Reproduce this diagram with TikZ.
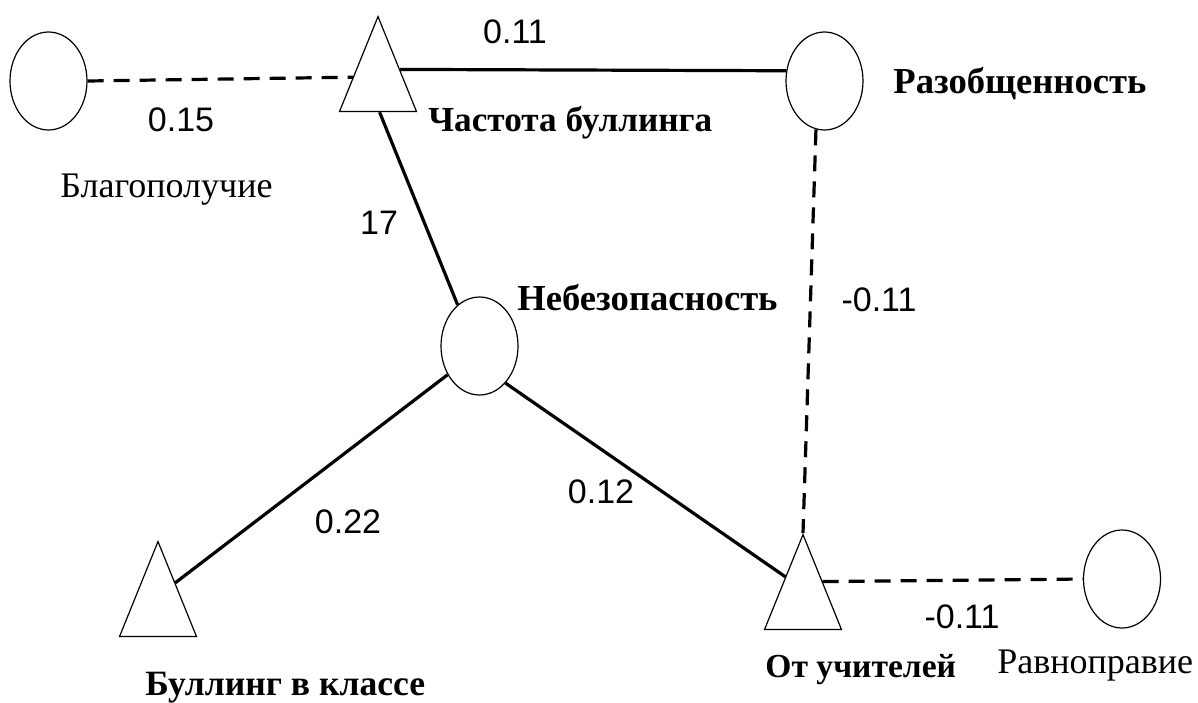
\documentclass[tikz,border=0pt]{standalone}
\usepackage{fontspec}
\setmainfont{Liberation Serif}
\newfontfamily\numfont{Liberation Sans}
\usetikzlibrary{shapes.geometric}
\usetikzlibrary{calc}
\tikzset{%
  solidlink/.style = {line width=1.6pt},
  dashlink/.style = {line width=1.6pt,dash pattern=on 8pt off 5pt},
  fac/.style = {ellipse,draw,line width=0.6pt,inner sep=0pt,
        minimum width=38.5pt,minimum height=49pt},
  tri/.style = {isosceles triangle,isosceles triangle stretches,draw,
        line width=0.6pt,inner sep=0pt,rotate=90,anchor=apex,
        minimum width=38.5pt,minimum height=47.5pt},
  coef/.style = {font=\numfont\fontsize{17}{20}\selectfont},
  lab/.style = {font=\bfseries\fontsize{#1}{21}\selectfont,
        anchor=base west,inner sep=0pt},
  lab/.default = 18.3,
  namelab/.style = {font=\fontsize{18}{21}\selectfont,
        anchor=base west,inner sep=0pt}
}
\begin{document}
\begin{tikzpicture}[x=0.5pt,y=-0.5pt]
        \useasboundingbox (0,0) rectangle (1198,702);
        \node[fac] (blag) at (48.5,81) {};
        \node[tri] (freq) at (378,15) {};
        \node[fac] (razob) at (824.5,81) {};
        \node[fac] (unsafe) at (479.5,346) {};
        \node[tri] (klass) at (158,540) {};
        \node[tri] (teach) at (803,533) {};
        \node[fac] (ravn) at (1122,579) {};

        \draw[dashlink] (blag.east) -- ($(freq.apex)!0.64!(freq.left corner)$);
        \draw[solidlink] ($(freq.apex)!0.56!(freq.right corner)$) -- (razob.165);
        \draw[solidlink] ($(freq.left corner)!0.52!(freq.right corner)$) -- (unsafe.118);
        \draw[dashlink] (razob.260) -- (teach.apex);
        \draw[solidlink] (unsafe.222) -- ($(klass.apex)!0.44!(klass.right corner)$);
        \draw[solidlink] (unsafe.305) -- ($(teach.apex)!0.45!(teach.left corner)$);
        \draw[dashlink] ($(teach.apex)!0.5!(teach.right corner)$) -- (ravn.west);

        \node[coef] (w-fr) at (515,32) {0.11};
        \node[coef] (w-bf) at (181,120) {0.15};
        \node[coef] (w-fu) at (379,223) {17};
        \node[coef] (w-rt) at (879,300) {-0.11};
        \node[coef] (w-uk) at (348,522) {0.22};
        \node[coef] (w-ut) at (601,492) {0.12};
        \node[coef] (w-tr) at (962,617) {-0.11};

        \node[namelab] (blag-l) at (60,197) {Благополучие};
        \node[lab=17.6] (freq-l) at (428,131) {Частота буллинга};
        \node[lab] (razob-l) at (893,93) {Разобщенность};
        \node[lab] (unsafe-l) at (517,310) {Небезопасность};
        \node[lab=17.8] (klass-l) at (145,695) {Буллинг в классе};
        \node[lab=16.8] (teach-l) at (765,677) {От учителей};
        \node[namelab] (ravn-l) at (997,673) {Равноправие};
    \end{tikzpicture}
\end{document}
